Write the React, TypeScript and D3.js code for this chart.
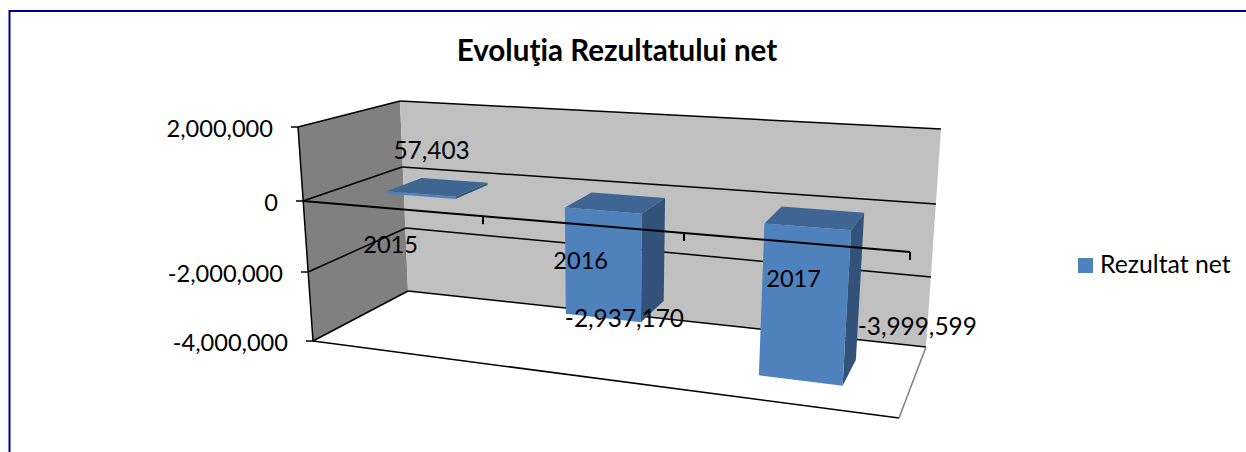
import React from "react";
import * as d3 from "d3";

const categories = ["2015", "2016", "2017"];
const seriesName = "Rezultat net";
const values = [57403, -2937170, -3999599];
const valueTicks = [2000000, 0, -2000000, -4000000];
const title = "Evoluţia Rezultatului net";

const FONT = "Lato, Carlito, sans-serif";
const FRONT = "#4F81BD";
const TOP = "#3F6592";
const SIDE = "#325279";

// Four vertical edges of the 3-D box, each as a value -> screen scale.
const edge = (xs: number[], ys: number[]) => ({
  x: d3.scaleLinear().domain(valueTicks).range(xs),
  y: d3.scaleLinear().domain(valueTicks).range(ys),
});
const frontLeft = edge([298, 303, 308, 313], [127, 201, 272, 341]);
const frontRight = edge([915.5, 910, 904.5, 899], [165, 252, 337, 418]);
const backLeft = edge([400, 402, 406, 408], [101, 167, 228, 291]);
const backRight = edge([941, 936, 931, 926], [129, 204, 277, 347]);

// Perspective along the category axis.
const catScale = d3.scaleLinear().domain([0, categories.length]).range([0, 1]);
const W = 1.186;
const persp = (u: number) => {
  const s = catScale(u);
  return s / (s + W * (1 - s));
};

const project = (u: number, v: number, d: number): [number, number] => {
  const t = persp(u);
  const fx = d3.interpolateNumber(frontLeft.x(v), frontRight.x(v))(t);
  const fy = d3.interpolateNumber(frontLeft.y(v), frontRight.y(v))(t);
  const bx = d3.interpolateNumber(backLeft.x(v), backRight.x(v))(t);
  const by = d3.interpolateNumber(backLeft.y(v), backRight.y(v))(t);
  return [fx + (bx - fx) * d, fy + (by - fy) * d];
};

const pathOf = (pts: [number, number][]) => d3.line()(pts) + "Z";
const N = categories.length;
const D0 = 0.34;
const D1 = 0.72;
const fmt = (v: number) => d3.format(",")(v).replace("\u2212", "-");

// Data-label placements, in screen offsets from the bar geometry
const labelOffsets = [
  [11, -35],
  [21.5, 9],
  [117, -45],
];

function Text(p: any) {
  return <text fontFamily={FONT} fontSize={24} fill="#000" {...p} />;
}

export default function App() {
  const W0 = 1246;
  const H0 = 452;
  const ln = (a: [number, number], b: [number, number], extra: any = {}) => (
    <line x1={a[0]} y1={a[1]} x2={b[0]} y2={b[1]} stroke="#000" strokeWidth={1.5} {...extra} />
  );
  const vmin = valueTicks[valueTicks.length - 1];
  const vmax = valueTicks[0];
  return (
    <svg
      width={W0}
      height={H0}
      style={{ position: "absolute", left: 0, top: 0, background: "#fff" }}
    >
      <path d="M9.5,452V11H1246" fill="none" stroke="#00008B" strokeWidth={2} />
      <Text x={617} y={61} textAnchor="middle" fontWeight={700} fontSize={29.6}>
        {title}
      </Text>

      {/* walls */}
      <path
        d={pathOf([project(0, vmax, 0), project(0, vmax, 1), project(0, vmin, 1), project(0, vmin, 0)])}
        fill="#808080"
      />
      <path
        d={pathOf([project(0, vmax, 1), project(N, vmax, 1), project(N, vmin, 1), project(0, vmin, 1)])}
        fill="#C0C0C0"
      />
      {/* gridlines */}
      {valueTicks.map((v) => (
        <g key={v}>
          {ln(project(0, v, 0), project(0, v, 1))}
          {ln(project(0, v, 1), project(N, v, 1))}
          {ln([project(0, v, 0)[0] - 7, project(0, v, 0)[1]], project(0, v, 0))}
        </g>
      ))}
      {/* left axis */}
      {ln(project(0, vmax, 0), project(0, vmin, 0))}
      {/* floor */}
      {ln(project(0, vmin, 0), project(N, vmin, 0))}
      {ln(project(N, vmin, 0), project(N, vmin, 1), { stroke: "#808080" })}

      {/* bars */}
      {values.map((val, i) => {
        const u0 = i + 0.3;
        const u1 = i + 0.7;
        const hi = Math.max(val, 0);
        const lo = Math.min(val, 0);
        return (
          <g key={categories[i]}>
            <path
              d={pathOf([project(u1, hi, D0), project(u1, hi, D1), project(u1, lo, D1), project(u1, lo, D0)])}
              fill={SIDE}
            />
            <path
              d={pathOf([project(u0, hi, D0), project(u0, hi, D1), project(u1, hi, D1), project(u1, hi, D0)])}
              fill={TOP}
            />
            <path
              d={pathOf([project(u0, hi, D0), project(u1, hi, D0), project(u1, lo, D0), project(u0, lo, D0)])}
              fill={FRONT}
            />
          </g>
        );
      })}

      {/* category axis on the zero plane */}
      {ln(project(0, 0, 0), project(N, 0, 0), { strokeWidth: 2 })}
      {categories.map((_, i) => {
        const p = project(i + 1, 0, 0);
        return <g key={i}>{ln(p, [p[0], p[1] + 8], { strokeWidth: 2 })}</g>;
      })}

      {/* value axis labels */}
      {valueTicks.map((v) => {
        const p = project(0, v, 0);
        return (
          <Text key={v} x={p[0] - 25} y={p[1] + 9.5} textAnchor="end" fontSize={23.6}>
            {fmt(v)}
          </Text>
        );
      })}

      {/* category labels */}
      {categories.map((c, i) => {
        const p = project(i + 0.5, 0, 0);
        return (
          <Text key={c} x={p[0]} y={p[1] + 45} textAnchor="middle" fontSize={23.6}>
            {c}
          </Text>
        );
      })}

      {/* data labels */}
      {values.map((val, i) => {
        const p = project(i + 0.5, val, D0);
        return (
          <Text key={i} x={p[0] + labelOffsets[i][0]} y={p[1] + labelOffsets[i][1]} textAnchor="middle" fontSize={24.4}>
            {fmt(val)}
          </Text>
        );
      })}

      {/* legend */}
      <rect x={1078} y={258} width={15} height={15} fill={FRONT} />
      <Text x={1100} y={273} fontSize={24.8}>
        {seriesName}
      </Text>
    </svg>
  );
}
